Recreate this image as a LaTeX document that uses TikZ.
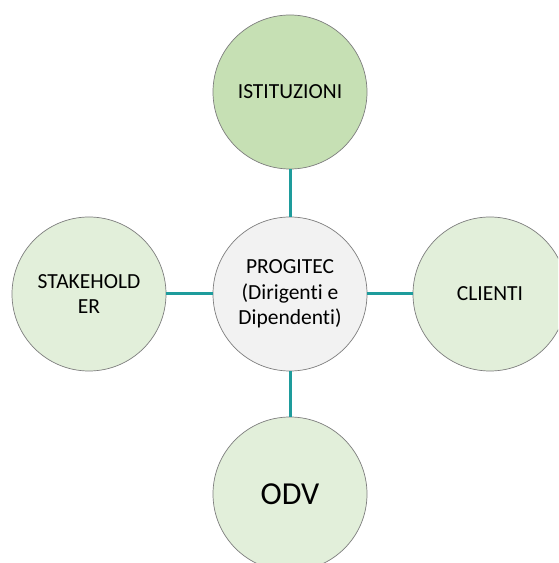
\documentclass[tikz,border=0pt]{standalone}
\usepackage{fontspec}
\setmainfont[Ligatures=NoCommon]{Carlito}
\definecolor{teal1}{RGB}{30,156,156}
\definecolor{greenA}{RGB}{198,224,180}
\definecolor{greenB}{RGB}{226,239,218}
\definecolor{greyC}{RGB}{242,242,242}
\definecolor{edgeC}{RGB}{125,125,125}
\begin{document}
\begin{tikzpicture}[x=1pt,y=1pt,
  bubble/.style={circle, draw=edgeC, line width=0.7pt, minimum size=154pt, inner sep=0pt, align=center, font=\fontsize{21.5}{25.5}\selectfont},
  link/.style={draw=teal1, line width=3pt}]
\useasboundingbox (0,0) rectangle (558,563);
\clip (0,0) rectangle (558,563);
\fill[white] (0,0) rectangle (558,563);
\node[bubble, fill=greyC] (c) at (290,269) {PROGITEC\\(Dirigenti e\\Dipendenti)};
\node[bubble, fill=greenA] (t) at (290,471) {ISTITUZIONI};
\node[bubble, fill=greenB] (l) at (89,269) {STAKEHOLD\\ER};
\node[bubble, fill=greenB] (r) at (490,269) {CLIENTI};
\node[bubble, fill=greenB, font=\fontsize{32}{36}\selectfont] (b) at (290,69) {ODV};
\draw[link] (t) -- (c);
\draw[link] (l) -- (c);
\draw[link] (r) -- (c);
\draw[link] (b) -- (c);
\end{tikzpicture}
\end{document}
